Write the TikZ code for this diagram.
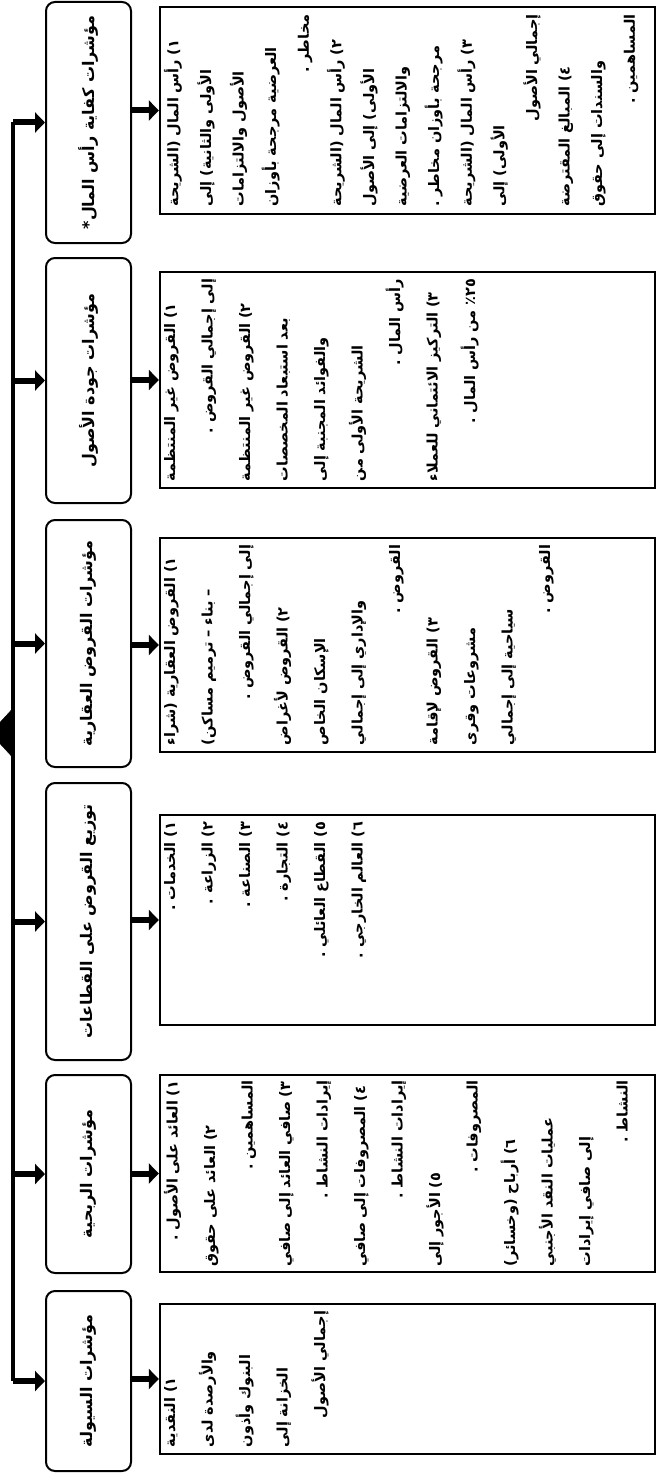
\documentclass[tikz,border=0pt]{standalone}
\usepackage{fontspec}
\usetikzlibrary{arrows.meta}
\newfontfamily\arabicfont[Script=Arabic]{DejaVu Sans}
\TeXXeTstate=1
% one justified line, one line set to the right
\newcommand\jl[1]{\hbox to \hsize{\beginR#1\endR}}
\newcommand\rl[1]{\hbox to \hsize{\hfil\beginR#1\endR}}

\begin{document}
\begin{tikzpicture}[x=1pt,y=-1pt,
  hdr/.style={draw,line width=2pt,rounded corners=9pt,rotate=90,minimum height=85pt,inner sep=0pt,
    font=\arabicfont\bfseries\fontsize{16}{20}\selectfont},
  cbox/.style={draw,line width=2.4pt,minimum width=495pt,inner sep=0pt},
  ctxt/.style={rotate=90,anchor=north,inner sep=0pt,align=right,
    font=\arabicfont\bfseries\fontsize{14.5}{37.5}\selectfont},
  feed/.style={line width=6pt,-{Triangle[length=10pt,width=20pt]}},
  bus/.style={line width=4pt}]
\useasboundingbox (0,0) rectangle (658,1474);

%Header boxes
\node[hdr,minimum width=241pt] (h1) at (88.5,122.5) {\beginR مؤشرات كفاية رأس المال*\endR};
\node[hdr,minimum width=245pt] (h2) at (88.5,380.5) {\beginR مؤشرات جودة الأصول\endR};
\node[hdr,minimum width=247pt] (h3) at (88.5,643.5) {\beginR مؤشرات القروض العقارية\endR};
\node[hdr,minimum width=277pt] (h4) at (88.5,921.5) {\beginR توزيع القروض على القطاعات\endR};
\node[hdr,minimum width=198pt] (h5) at (88.5,1174) {\beginR مؤشرات الربحية\endR};
\node[hdr,minimum width=180pt] (h6) at (88.5,1381) {\beginR مؤشرات السيولة\endR};

%Content boxes
\node[cbox,minimum height=207pt] (c1) at (407.5,110.5) {};
\node[cbox,minimum height=216pt] (c2) at (407.5,380) {};
\node[cbox,minimum height=214pt] (c3) at (407.5,645) {};
\node[cbox,minimum height=210pt] (c4) at (407.5,920) {};
\node[cbox,minimum height=197pt] (c5) at (407.5,1173.5) {};
\node[cbox,minimum height=150pt] (c6) at (407.5,1379) {};

% Text Node
\node[ctxt,text width=192pt,font=\arabicfont\bfseries\fontsize{14.5}{32.6}\selectfont] (t1) at ([xshift=5pt]c1.west) {%
\jl{١) رأس المال (الشريحة}
\jl{الأولى والثانية) إلى}
\jl{الأصول والالتزامات}
\jl{العرضية مرجحة بأوزان}
\rl{مخاطر .}
\jl{٢) رأس المال (الشريحة}
\jl{الأولى) إلى الأصول}
\jl{والالتزامات العرضية}
\jl{مرجحة بأوزان مخاطر .}
\jl{٣) رأس المال (الشريحة}
\jl{الأولى) إلى}
\rl{إجمالي الأصول}
\jl{٤) المبالغ المقترضة}
\jl{والسندات إلى حقوق}
\rl{المساهمين .}};
% Text Node
\node[ctxt,text width=202pt] (t2) at ([xshift=5pt]c2.west) {%
\jl{١) القروض غير المنتظمة}
\rl{إلى إجمالي القروض .}
\jl{٢) القروض غير المنتظمة}
\jl{بعد استبعاد المخصصات}
\jl{والفوائد المجنبة إلى}
\jl{الشريحة الأولى من}
\rl{رأس المال .}
\jl{٣) التركيز الائتماني للعملاء}
\rl{٢٥٪ من رأس المال .}};
% Text Node
\node[ctxt,text width=200pt] (t3) at ([xshift=5pt]c3.west) {%
\jl{١) القروض العقارية (شراء}
\jl{– بناء – ترميم مساكن)}
\rl{إلى إجمالي القروض .}
\jl{٢) القروض لأغراض}
\jl{الإسكان الخاص}
\jl{والإداري إلى إجمالي}
\rl{القروض .}
\jl{٣) القروض لإقامة}
\jl{مشروعات وقرى}
\jl{سياحية إلى إجمالي}
\rl{القروض .}};
% Text Node
\node[ctxt,text width=196pt] (t4) at ([xshift=5pt]c4.west) {%
\rl{١) الخدمات .}
\rl{٢) الزراعة .}
\rl{٣) الصناعة .}
\rl{٤) التجارة .}
\rl{٥) القطاع العائلي .}
\rl{٦) العالم الخارجي .}};
% Text Node
\node[ctxt,text width=186pt] (t5) at ([xshift=5pt]c5.west) {%
\rl{١) العائد على الأصول .}
\jl{٢) العائد على حقوق}
\rl{المساهمين .}
\jl{٣) صافي العائد إلى صافي}
\rl{إيرادات النشاط .}
\jl{٤) المصروفات إلى صافي}
\rl{إيرادات النشاط .}
\jl{٥) الأجور إلى}
\rl{المصروفات .}
\jl{٦) أرباح (وخسائر)}
\jl{عمليات النقد الأجنبي}
\jl{إلى صافي إيرادات}
\rl{النشاط .}};
% Text Node
\node[ctxt,text width=136pt] (t6) at ([xshift=5pt]c6.west) {%
\jl{١) النقدية}
\jl{والأرصدة لدى}
\jl{البنوك وأذون}
\jl{الخزانة إلى}
\rl{إجمالي الأصول}};

%Bus line and arrows
\coordinate (bus) at (13,0);
\coordinate (root) at (-10,733);
\draw[bus] (h1.north -| bus) -- (h6.north -| bus);
\draw[fill,-{Triangle[length=23pt,width=50pt]}] (bus |- root) -- (root);
\foreach \i in {1,...,6} {
  \draw[feed] (h\i.north -| bus) -- (h\i.north);
  \draw[feed] (h\i.south |- c\i.west) -- (c\i.west);
}
\end{tikzpicture}
\end{document}
